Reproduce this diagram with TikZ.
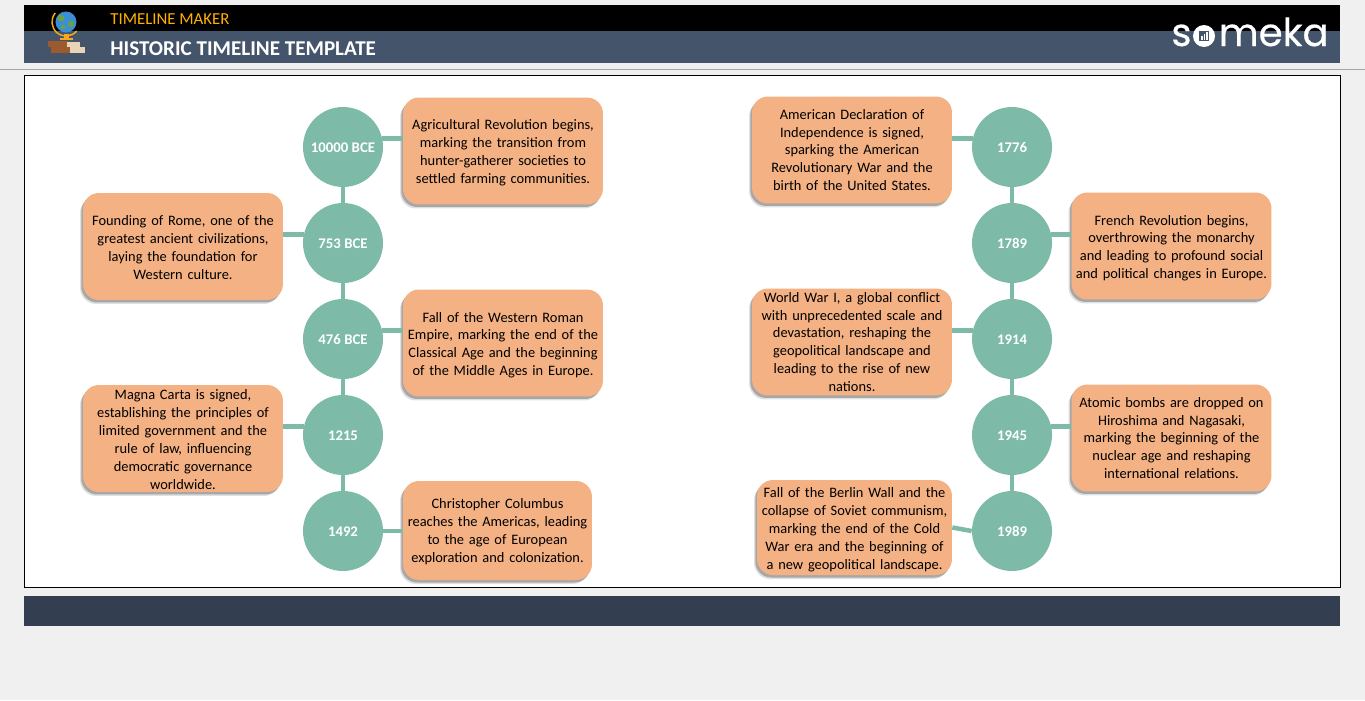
\documentclass[tikz,border=0pt]{standalone}
\usepackage{fontspec}
\setmainfont{Carlito}
\newfontfamily\logofont[FakeBold=0.5]{Poppins}
\usetikzlibrary{shadows}
\definecolor{pagebg}{HTML}{F0F0F0}
\definecolor{headbar}{HTML}{44546A}
\definecolor{footbar}{HTML}{333F50}
\definecolor{mint}{HTML}{7DBBA8}
\definecolor{peach}{HTML}{F4B183}
\definecolor{titleorange}{HTML}{FFB000}
\definecolor{globeblue}{HTML}{3B8FD4}
\definecolor{globegreen}{HTML}{6E9F4A}
\definecolor{standorange}{HTML}{F5A81C}
\definecolor{bookbrown}{HTML}{9C5A2E}
\definecolor{bookcream}{HTML}{E8D5B7}
\begin{document}
\begin{tikzpicture}[x=0.02cm,y=-0.02cm,
    yr/.style={circle,fill=mint,minimum size=1.6cm,inner sep=0pt,text=white,text height=6.4pt,text depth=0pt,font=\fontsize{8.4}{10}\selectfont\bfseries},
    ev/.style={rounded corners=0.32cm,fill=peach,inner sep=0pt,minimum height=2.14cm,text width=3.9cm,align=center,
        font=\fontsize{8.2}{10.2}\selectfont,
        drop shadow={shadow xshift=-0.06cm,shadow yshift=-0.08cm,fill=black,opacity=0.12},
        drop shadow={shadow xshift=-0.035cm,shadow yshift=-0.05cm,fill=black,opacity=0.25}},
    dn/.style={execute at begin node={\rule{0pt}{#1}}},
    lk/.style={draw=mint,line width=0.09cm},
    title/.style={anchor=west,inner sep=0pt},
    logo/.style={anchor=base west,inner sep=0pt,text=white,font=\fontsize{22}{24}\logofont}]
    \useasboundingbox (0,0) rectangle (1365,700);
    \fill[pagebg] (0,0) rectangle (1365,700);

    % header and footer
    \fill[black] (24,5) rectangle (1340,31);
    \fill[headbar] (24,31) rectangle (1340,63);
    \draw[color=black!35,line width=0.02cm] (0,69.5) -- (1365,69.5);
    \fill[footbar] (24,596) rectangle (1340,626);
    \draw[black,fill=white,line width=0.02cm] (24.5,75.5) rectangle (1340.5,587.5);

    \node[title,text=titleorange,font=\fontsize{9.55}{11}\selectfont] (maker) at (110,19) {TIMELINE MAKER};
    \node[title,text=white,font=\fontsize{12}{14}\selectfont\bfseries] (tpl) at (110,49) {HISTORIC TIMELINE TEMPLATE};

    % globe and books
    \draw[color=standorange,line width=0.03cm] (66,22) ++(220:14) arc (220:40:14);
    \fill[standorange] (60,37.5) rectangle (73,40);
    \fill[standorange] (64,34) rectangle (69,38);
    \fill[globeblue] (66,22) circle (10.5);
    \fill[globegreen] (61,18) circle (3.5);
    \fill[globegreen] (71,24) circle (3.2);
    \fill[globegreen] (63,27) circle (2.2);
    \fill[bookbrown] (48,41) rectangle (68,47);
    \fill[bookcream] (67,42) rectangle (80,47);
    \fill[bookbrown] (51,47) rectangle (71,53);
    \fill[bookcream] (70,47) rectangle (85,53);

    % logo
    \node[logo] (lgs) at (1171,46) {s};
    \fill[white] (1204,36) circle (11);
    \fill[headbar] (1199,31) rectangle (1209,41);
    \fill[white] (1201,36) rectangle (1202.5,40);
    \fill[white] (1203.5,34) rectangle (1205,40);
    \fill[white] (1206,32) rectangle (1207.5,40);
    \node[logo] (lgm) at (1218.5,46) {meka};

    % left column
    \node[yr] (y1) at (343,147) {10000 BCE};
    \node[yr] (y2) at (343,243) {753 BCE};
    \node[yr] (y3) at (343,339) {476 BCE};
    \node[yr] (y4) at (343,435) {1215};
    \node[yr] (y5) at (343,531) {1492};

    \node[ev,dn=8.1pt,minimum width=4cm] (e1) at (503,151) {Agricultural Revolution begins,\\marking the transition from\\hunter-gatherer societies to\\settled farming communities.};
    \node[ev,dn=6.9pt,minimum width=4cm] (e2) at (183,246.5) {Founding of Rome, one of the\\greatest ancient civilizations,\\laying the foundation for\\Western culture.};
    \node[ev,dn=8.1pt,minimum width=4cm] (e3) at (503,343) {Fall of the Western Roman\\Empire, marking the end of the\\Classical Age and the beginning\\of the Middle Ages in Europe.};
    \node[ev,dn=6.9pt,minimum width=4cm] (e4) at (183,438.5) {Magna Carta is signed,\\establishing the principles of\\limited government and the\\rule of law, influencing\\democratic governance\\worldwide.};
    \node[ev,dn=6.9pt,minimum width=3.78cm,minimum height=1.98cm,text width=3.7cm] (e5) at (497.5,530.5) {Christopher Columbus\\reaches the Americas, leading\\to the age of European\\exploration and colonization.};

    % right column
    \node[yr] (y6) at (1012,147) {1776};
    \node[yr] (y7) at (1012,243) {1789};
    \node[yr] (y8) at (1012,339) {1914};
    \node[yr] (y9) at (1012,435) {1945};
    \node[yr] (y10) at (1012,531) {1989};

    \node[ev,minimum width=4cm] (e6) at (852,150) {American Declaration of\\Independence is signed,\\sparking the American\\Revolutionary War and the\\birth of the United States.};
    \node[ev,dn=8.1pt,minimum width=4cm] (e7) at (1171.5,246) {French Revolution begins,\\overthrowing the monarchy\\and leading to profound social\\and political changes in Europe.};
    \node[ev,minimum width=4cm] (e8) at (852,342) {World War I, a global conflict\\with unprecedented scale and\\devastation, reshaping the\\geopolitical landscape and\\leading to the rise of new\\nations.};
    \node[ev,minimum width=4cm] (e9) at (1171.5,438) {Atomic bombs are dropped on\\Hiroshima and Nagasaki,\\marking the beginning of the\\nuclear age and reshaping\\international relations.};
    \node[ev,dn=8.1pt,minimum width=3.9cm,minimum height=1.9cm,text width=3.85cm] (e10) at (854.5,527.5) {Fall of the Berlin Wall and the\\collapse of Soviet communism,\\marking the end of the Cold\\War era and the beginning of\\a new geopolitical landscape.};

    \draw[lk] (y1) to (y2);
    \draw[lk] (y2) to (y3);
    \draw[lk] (y3) to (y4);
    \draw[lk] (y4) to (y5);
    \draw[lk] (y6) to (y7);
    \draw[lk] (y7) to (y8);
    \draw[lk] (y8) to (y9);
    \draw[lk] (y9) to (y10);

    \draw[lk] (y1.12) to (y1.12 -| e1.west);
    \draw[lk] (y2.168) to (y2.168 -| e2.east);
    \draw[lk] (y3.12) to (y3.12 -| e3.west);
    \draw[lk] (y4.168) to (y4.168 -| e4.east);
    \draw[lk] (y5.east) to (y5.east -| e5.west);
    \draw[lk] (y6.168) to (y6.168 -| e6.east);
    \draw[lk] (y7.12) to (y7.12 -| e7.west);
    \draw[lk] (y8.168) to (y8.168 -| e8.east);
    \draw[lk] (y9.12) to (y9.12 -| e9.west);
    \draw[lk] (y10.west) to (e10.east);
\end{tikzpicture}
\end{document}
